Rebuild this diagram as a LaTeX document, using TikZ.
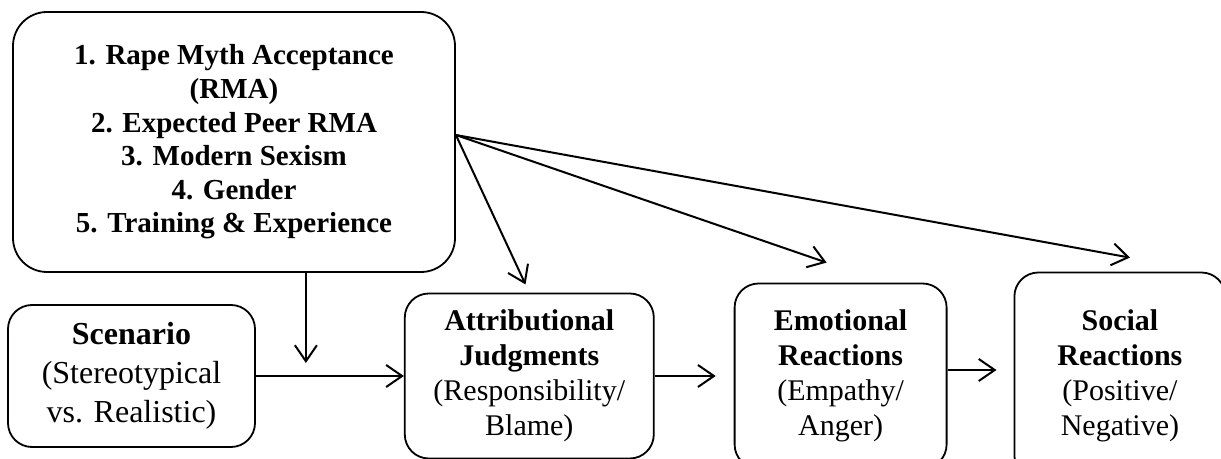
\documentclass[tikz,border=0pt]{standalone}
\usepackage{fontspec}
\setmainfont{Liberation Serif}
\usetikzlibrary{positioning,arrows.meta,calc}

\begin{document}
\begin{tikzpicture}[
  box/.style={draw, line width=0.9pt, align=center, inner sep=4pt, font=\fontsize{15pt}{17.5pt}\selectfont},
  factorbox/.style={box, rounded corners=17pt, minimum width=221pt, minimum height=130pt, font=\fontsize{14.5pt}{16.8pt}\selectfont\bfseries},
  stage/.style={box, rounded corners=12pt},
  arr/.style={-{Straight Barb[length=8pt,width=11pt]}, line width=1pt},
]
\clip (0,0) rectangle (610.5pt,-229.5pt);

\node[factorbox] (factors) at (117pt,-71pt) {1. Rape Myth Acceptance\\(RMA)\\2. Expected Peer RMA\\3. Modern Sexism\\4. Gender\\5. Training \& Experience};
\node[stage, minimum width=123.5pt, minimum height=71pt, font=\fontsize{16pt}{19.5pt}\selectfont] (scen) at (65.75pt,-188pt) {\textbf{Scenario}\\(Stereotypical\\vs. Realistic)};
\node[stage, minimum width=124.5pt, minimum height=82.5pt, right=74pt of scen] (attr) {\textbf{Attributional}\\\textbf{Judgments}\\(Responsibility/\\Blame)};
\node[stage, minimum width=106pt, minimum height=92.5pt, right=39.5pt of attr] (emo) {\textbf{Emotional}\\\textbf{Reactions}\\(Empathy/\\Anger)};
\node[stage, minimum width=105.5pt, minimum height=103.5pt, right=33pt of emo] (social) {\textbf{Social}\\\textbf{Reactions}\\(Positive/\\Negative)};

% where the fan of arrows starts and ends
\coordinate (fan) at ([yshift=3.5pt]factors.east);
\coordinate (mod) at ([xshift=25pt,yshift=6.5pt]scen.east);
\coordinate (emotip) at ([xshift=-7pt,yshift=10pt]emo.north);
\coordinate (socialtip) at ([xshift=5pt,yshift=7pt]social.north);

\draw[arr] (scen) -- (attr);
\draw[arr, shorten >=9pt] (attr) -- (emo);
\draw[arr, shorten >=8.5pt] ([yshift=3pt]emo.east) -- ([yshift=3pt]social.west);
\draw[arr] (factors.south -| mod) -- (mod);
\draw[arr, shorten >=4.5pt] (fan) -- (attr.north);
\draw[arr] (fan) -- (emotip);
\draw[arr] (fan) -- (socialtip);
\end{tikzpicture}
\end{document}
